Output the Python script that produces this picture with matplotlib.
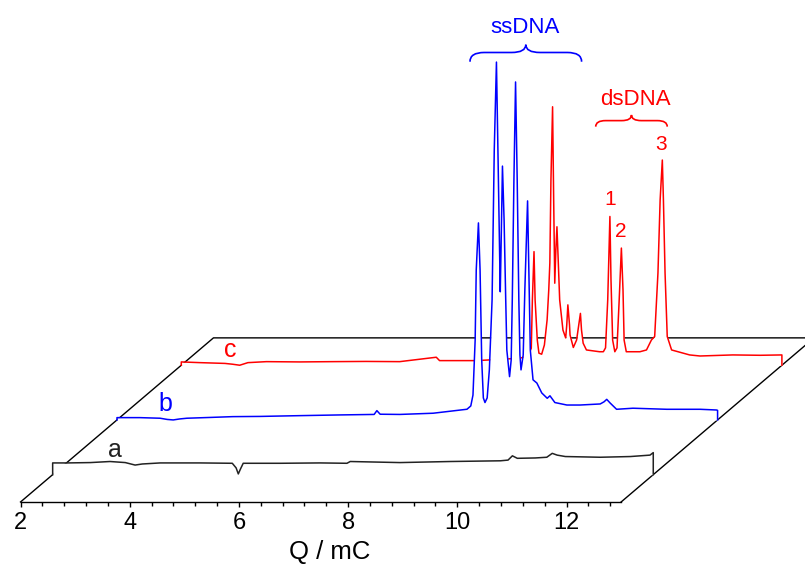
import numpy as np
import matplotlib
matplotlib.use("Agg")
import matplotlib.pyplot as plt
from matplotlib.path import Path
from matplotlib.patches import PathPatch
from matplotlib.transforms import Affine2D
from matplotlib.ticker import MultipleLocator

plt.rcParams['font.family'] = ['Liberation Sans', 'DejaVu Sans']

# Trace a (black): charge Q / mC vs signal (arb. units)
q_a = [2.00, 2.00, 2.27, 2.69, 3.05, 3.33, 3.51, 3.64, 3.97, 4.70,
       5.29, 5.36, 5.40, 5.44, 5.49, 6.17, 6.90, 7.39, 7.45, 8.36,
       9.28, 10.20, 10.34, 10.42, 10.51, 10.84, 11.05, 11.15, 11.24, 11.39,
       12.03, 12.58, 12.94, 13.00, 13.00]
i_a = [0, 3.3, 3.3, 3.4, 3.7, 3.4, 2.7, 3.0, 3.3, 3.3,
       3.2, 1.9, 0.2, 1.6, 3.2, 3.2, 3.3, 3.2, 3.7, 3.4,
       3.7, 3.9, 4.1, 5.3, 4.6, 4.7, 4.9, 6.0, 5.5, 5.1,
       4.9, 5.1, 5.5, 6.2, 0]

# Trace b (blue): ssDNA peaks
q_b = [2.00, 2.00, 2.42, 2.79, 2.92, 3.03, 3.15, 3.28, 3.70, 4.12,
       4.62, 5.35, 6.08, 6.71, 6.76, 6.82, 7.18, 7.79, 8.41, 8.48,
       8.52, 8.56, 8.58, 8.62, 8.65, 8.68, 8.71, 8.74, 8.78, 8.82,
       8.87, 8.91, 8.95, 8.98, 9.01, 9.02, 9.04, 9.06, 9.09, 9.12,
       9.14, 9.19, 9.22, 9.24, 9.27, 9.30, 9.33, 9.36, 9.38, 9.40,
       9.44, 9.47, 9.52, 9.55, 9.57, 9.62, 9.69, 9.78, 9.88, 9.93,
       10.02, 10.24, 10.48, 10.85, 10.92, 10.97, 11.03, 11.15, 11.45, 12.07,
       12.68, 12.98, 13.00, 13.00]
i_b = [0, 0.65, 0.65, 0.48, 0.14, 0.0, 0.28, 0.48, 0.70, 0.93,
       0.99, 1.21, 1.41, 1.55, 2.62, 1.61, 1.55, 1.89, 3.01, 3.94,
       7.0, 22.5, 42.3, 55.5, 42.3, 16.9, 6.2, 4.9, 6.2, 14.1,
       33.8, 76.1, 100.8, 73.2, 45.1, 36.1, 53.5, 71.5, 56.3, 33.8,
       19.7, 12.2, 16.9, 33.8, 67.6, 95.2, 67.6, 33.8, 18.3, 14.1,
       18.3, 36.6, 61.7, 36.6, 19.7, 11.3, 10.4, 7.6, 6.1, 6.8,
       4.9, 4.2, 4.2, 4.5, 5.1, 5.8, 4.8, 3.0, 3.3, 3.0,
       3.0, 2.8, 2.7, 0]

# Trace c (red): ssDNA + dsDNA peaks
q_c = [2.00, 2.00, 2.34, 2.80, 2.94, 3.07, 3.22, 3.56, 4.17, 4.77,
       5.38, 6.00, 6.67, 6.73, 7.41, 8.20, 8.35, 8.41, 8.43, 8.46,
       8.48, 8.52, 8.55, 8.60, 8.65, 8.70, 8.73, 8.75, 8.77, 8.80,
       8.82, 8.84, 8.86, 8.88, 8.91, 8.93, 8.99, 9.04, 9.06, 9.08,
       9.11, 9.12, 9.18, 9.24, 9.28, 9.31, 9.33, 9.36, 9.42, 9.66,
       9.73, 9.77, 9.81, 9.85, 9.87, 9.90, 9.94, 9.98, 10.02, 10.06,
       10.09, 10.11, 10.15, 10.40, 10.52, 10.61, 10.67, 10.73, 10.77, 10.81,
       10.83, 10.86, 10.90, 10.98, 11.31, 11.50, 12.10, 12.60, 13.00, 13.00]
i_c = [0, 0.93, 0.73, 0.51, 0.28, 0.0, 0.73, 1.01, 0.93, 1.01,
       1.07, 1.01, 2.25, 1.30, 1.30, 1.97, 2.62, 4.79, 18.4, 32.0,
       18.4, 7.1, 3.4, 3.1, 5.7, 12.8, 21.2, 28.8, 52.2, 72.8,
       46.6, 23.1, 32.5, 39.0, 26.8, 18.4, 9.9, 7.7, 11.4, 17.0,
       11.4, 8.5, 5.0, 7.1, 11.4, 14.6, 9.9, 6.2, 4.3, 3.8,
       3.8, 4.9, 18.4, 41.9, 24.0, 7.1, 3.8, 4.9, 18.4, 33.0,
       21.2, 7.1, 3.8, 3.8, 4.3, 7.1, 8.1, 26.0, 46.6, 57.8,
       46.6, 26.0, 8.1, 4.3, 2.9, 2.6, 2.9, 2.8, 2.9, 0]

trace_names = ["a", "b", "c"]
trace_depth = [0.5, 1.5, 2.5]
trace_colors = ["#222222", "#0000ff", "#ff0000"]

fig = plt.figure(figsize=(8.05, 5.64), dpi=100)
ax = fig.add_axes([20.5 / 805, 62 / 564, 600.6 / 805, 502 / 564])

# shift per depth step, in data units (Q, signal)
DQ = 1.178
DI = 15.41


def depth_tr(d):
    return Affine2D().translate(DQ * d, DI * d) + ax.transData


# floor of the pseudo-3D box, in (Q, depth) coordinates
floor_tr = Affine2D(np.array([[1, DQ, 0], [0, DI, 0], [0, 0, 1]])) + ax.transData
ax.plot([2, 2, 13, 13], [0, 3, 3, 0], color="black", lw=1.0, transform=floor_tr,
        clip_on=False, zorder=1)

series = [(q_a, i_a), (q_b, i_b), (q_c, i_c)]
for k, (q, sig) in enumerate(series):
    tr = depth_tr(trace_depth[k])
    z = 10 - 2 * k
    ax.fill_between(q, 0, sig, transform=tr, color="white", lw=0, zorder=z, clip_on=False)
    ax.plot(q, sig, color=trace_colors[k], lw=1.1, transform=tr, zorder=z + 0.5, clip_on=False)

# trace letters
letter_pos = [(3.14, 5.0), (2.88, 2.6), (2.89, 2.25)]
for k, (lq, li) in enumerate(letter_pos):
    ax.text(lq, li, trace_names[k], transform=depth_tr(trace_depth[k]), color=trace_colors[k],
            fontsize=18, ha="center", va="baseline", zorder=20)


def brace(x0, x1, y, rise, drop, rx, tr, color):
    xm = (x0 + x1) / 2
    verts = [(x0, y - drop), (x0, y), (x0 + rx, y), (xm - rx, y), (xm, y), (xm, y + rise),
             (xm, y), (xm + rx, y), (x1 - rx, y), (x1, y), (x1, y - drop)]
    codes = [Path.MOVETO, Path.CURVE3, Path.CURVE3, Path.LINETO, Path.CURVE3, Path.CURVE3,
             Path.CURVE3, Path.CURVE3, Path.LINETO, Path.CURVE3, Path.CURVE3]
    ax.add_patch(PathPatch(Path(verts, codes), fc="none", ec=color, lw=1.2,
                           transform=tr, clip_on=False, zorder=20))


# ssDNA annotation on trace b
tr_b = depth_tr(trace_depth[1])
brace(8.465, 10.51, 103.5, 2.2, 2.6, 0.26, tr_b, "#0000ff")
ax.text(9.47, 108.9, "ssDNA", transform=tr_b, color="#0000ff", fontsize=16,
        ha="center", va="baseline", zorder=20)

# dsDNA annotation on trace c
tr_c = depth_tr(trace_depth[2])
brace(9.59, 10.90, 68.9, 1.6, 1.7, 0.18, tr_c, "#ff0000")
ax.text(10.31, 73.3, "dsDNA", transform=tr_c, color="#ff0000", fontsize=16,
        ha="center", va="baseline", zorder=20)
for s, pq, pi in [("1", 9.85, 45.2), ("2", 10.05, 36.1), ("3", 10.78, 60.6)]:
    ax.text(pq, pi, s, transform=tr_c, color="#ff0000", fontsize=15,
            ha="center", va="baseline", zorder=20)

ax.set_xlim(2, 13)
ax.set_ylim(0, 141.4)
ax.set_facecolor("none")
for side in ["left", "top", "right"]:
    ax.spines[side].set_visible(False)
ax.spines["bottom"].set_linewidth(1.0)
ax.set_yticks([])
ax.set_xticks([2, 4, 6, 8, 10, 12])
ax.xaxis.set_minor_locator(MultipleLocator(0.4))
ax.tick_params(axis="x", which="major", direction="out", length=3.8, width=1.0,
               labelsize=17, pad=3.5)
ax.tick_params(axis="x", which="minor", direction="out", length=3.0, width=1.0)
ax.set_xlabel("Q / mC", fontsize=18.5)
ax.xaxis.set_label_coords(0.515, -0.075)

fig.savefig("out.png", dpi=100)
